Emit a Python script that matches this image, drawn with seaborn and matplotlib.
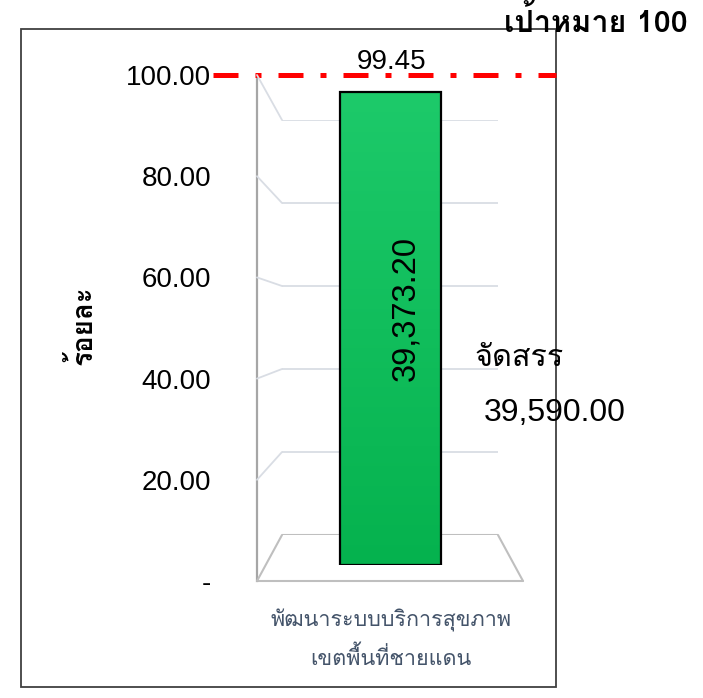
import numpy as np
import pandas as pd
import matplotlib
matplotlib.use("Agg")
import matplotlib.pyplot as plt
import seaborn as sns
from matplotlib import font_manager as fm
from matplotlib.ft2font import FT2Font
from matplotlib.lines import Line2D
from matplotlib.patches import Rectangle
from matplotlib.colors import LinearSegmentedColormap

# ---------------- data ----------------
categories = ["พัฒนาระบบบริการสุขภาพ\nเขตพื้นที่ชายแดน"]
percent_values = [99.45]
amount_spent = [39373.20]
amount_allocated = [39590.00]
target_value = 100
y_ticks = [0, 20, 40, 60, 80, 100]
y_tick_labels = ["-", "20.00", "40.00", "60.00", "80.00", "100.00"]
y_label = "ร้อยละ"
allocated_label = "จัดสรร"
target_label = "เป้าหมาย"


def find_thai_fonts():
    preferred = ["Loma", "Tahoma", "Leelawadee UI", "Noto Sans Thai", "Garuda",
                 "Sarabun", "Waree", "Umpush", "Kinnari", "Norasi"]
    found, seen = set(), set()
    for f in fm.fontManager.ttflist:
        if f.fname in seen:
            continue
        seen.add(f.fname)
        try:
            cm = FT2Font(f.fname).get_charmap()
        except Exception:
            continue
        if 0x0E01 in cm and 0x0E31 in cm and 0x0E49 in cm:
            found.add(f.name)
    return [p for p in preferred if p in found] + sorted(found - set(preferred))


sns.set_theme(style="white")
thai_fonts = find_thai_fonts()
plt.rcParams["font.family"] = ["Liberation Sans"] + thai_fonts + ["DejaVu Sans"]
THAI_FAMILY = thai_fonts + ["Liberation Sans", "DejaVu Sans"]

W, H = 703, 698
fig = plt.figure(figsize=(W / 100, H / 100), dpi=100)
fig.patch.set_facecolor("white")


def fx(x):
    return x / W


def fy(y):
    return 1 - y / H


def axes_px(x0, y0, x1, y1):
    return fig.add_axes([fx(x0), fy(y1), (x1 - x0) / W, (y1 - y0) / H])


GRID_C = "#d9dde4"
FLOOR_C = "#bfbfbf"
WALL_C = "#a6a6a6"

# back wall
ax_back = axes_px(282, 120, 498, 535)
ax_back.set_xlim(0, 1)
ax_back.set_ylim(0, 100)
ax_back.set_facecolor("none")
for s in ax_back.spines.values():
    s.set_visible(False)
ax_back.set_xticks([])
ax_back.set_yticks([])
for t in y_ticks:
    ax_back.axhline(t, color=GRID_C if t > 0 else FLOOR_C, lw=1.3 if t > 0 else 1.5, zorder=1)

# front / label plane
ax = axes_px(257, 75, 556, 581)
ax.set_xlim(0, 1)
ax.set_ylim(0, 100)
ax.set_facecolor("none")
for k, s in ax.spines.items():
    s.set_visible(k == "left")
ax.spines["left"].set_color(WALL_C)
ax.spines["left"].set_linewidth(1.6)
ax.set_xticks([])
ax.set_yticks(y_ticks)
ax.set_yticklabels(y_tick_labels)
ax.tick_params(axis="y", length=0, pad=33, labelsize=20, labelcolor="black")
ax.grid(False)

floor_right = (523 - 257) / 299
ax.plot([0, floor_right], [0, 0], color=FLOOR_C, lw=1.5, clip_on=False, zorder=1)

inv = fig.transFigure.inverted()
for t in y_ticks:
    p1 = ax.transData.transform((0, t))
    p2 = ax_back.transData.transform((0, t))
    pts = inv.transform([p1, p2])
    fig.add_artist(Line2D(pts[:, 0], pts[:, 1], transform=fig.transFigure,
                          color=GRID_C if t > 0 else FLOOR_C,
                          lw=1.3 if t > 0 else 1.5, zorder=0.5))
p1 = ax.transData.transform((floor_right, 0))
p2 = ax_back.transData.transform((1, 0))
pts = inv.transform([p1, p2])
fig.add_artist(Line2D(pts[:, 0], pts[:, 1], transform=fig.transFigure,
                      color=FLOOR_C, lw=1.5, zorder=0.5))

# target line
ax.axhline(target_value, xmin=(213 - 257) / 299, xmax=1, color="#FF0000", lw=3.6,
           clip_on=False, dashes=(5, 3.4, 1.2, 3.4), dash_capstyle="butt", zorder=10)

# bar plane
ax_bar = axes_px(257, 89.4, 556, 565)
df = pd.DataFrame({"category": categories, "percent": percent_values})
sns.barplot(data=df, x="category", y="percent", ax=ax_bar, color="#10be5c",
            edgecolor="black", linewidth=1.6, width=0.8, zorder=3)
ax_bar.set_facecolor("none")
for s in ax_bar.spines.values():
    s.set_visible(False)
ax_bar.set_xticks([])
ax_bar.set_yticks([])
ax_bar.set_xlabel("")
ax_bar.set_ylabel("")

cmap = LinearSegmentedColormap.from_list("g", ["#05b24e", "#1dca6a"])
for patch in ax_bar.patches:
    x0, y0 = patch.get_x(), patch.get_y()
    w, h = patch.get_width(), patch.get_height()
    grad = np.linspace(0, 1, 256).reshape(-1, 1)
    im = ax_bar.imshow(grad, extent=[x0, x0 + w, y0, y0 + h], origin="lower",
                       aspect="auto", cmap=cmap, zorder=2.5)
    im.set_clip_path(patch)
    patch.set_facecolor("none")

ax_bar.set_xlim(-1.0574, 1.3108)
ax_bar.set_ylim(0, 100)

for i, v in enumerate(percent_values):
    ax_bar.annotate(f"{v:.2f}", xy=(i, v), xytext=(1, 21.6), textcoords="offset points",
                    ha="center", va="center", fontsize=20, color="black", zorder=11,
                    annotation_clip=False)
    ax_bar.annotate(f"{amount_spent[i]:,.2f}", xy=(i, v / 2), xytext=(11.2, 14.5),
                    textcoords="offset points", ha="center", va="center",
                    rotation=90, fontsize=23.5, color="black", zorder=11)

# side texts
fig.text(fx(475), fy(358), allocated_label, ha="left", va="center", fontsize=22,
         color="black", family=THAI_FAMILY)
fig.text(fx(484), fy(413), f"{amount_allocated[0]:,.2f}", ha="left", va="center",
         fontsize=23, color="black")
fig.text(fx(688), fy(22), f"{target_label} {target_value}", ha="right", va="center",
         fontsize=22, fontweight="bold", color="black", family=THAI_FAMILY)
fig.text(fx(82), fy(325), y_label, rotation=90, ha="center", va="center",
         fontsize=20, fontweight="bold", color="black", family=THAI_FAMILY)

for i, line in enumerate(categories[0].split("\n")):
    fig.text(fx(391), fy(620 + 38 * i), line, ha="center", va="center",
             fontsize=15.5, color="#44546A", family=THAI_FAMILY)

fig.add_artist(Rectangle((fx(21), fy(687)), (556 - 21) / W, (687 - 29) / H,
                         transform=fig.transFigure, fill=False,
                         edgecolor="#404040", lw=1.3, zorder=0))

fig.savefig("out.png", dpi=100)
